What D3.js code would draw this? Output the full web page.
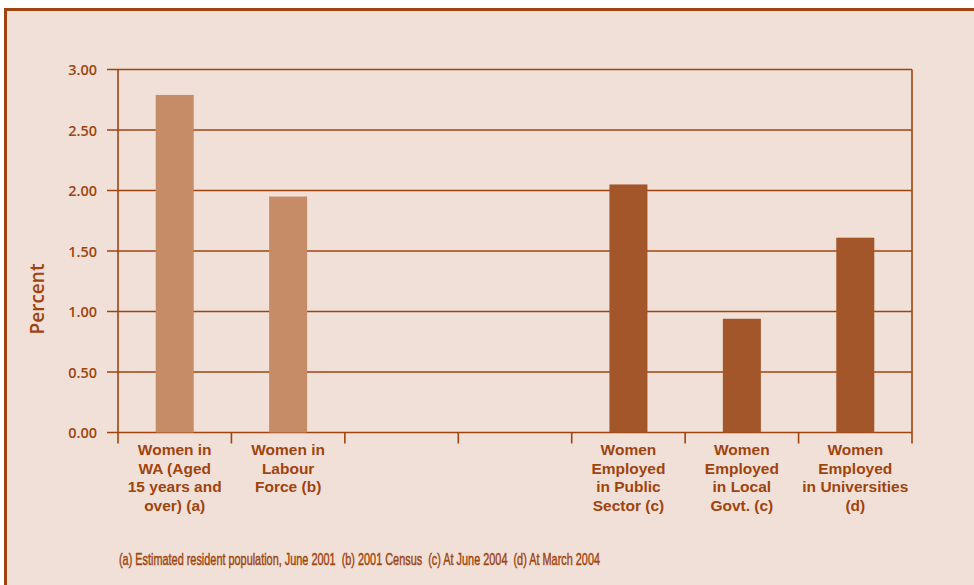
<!DOCTYPE html>
<html><head><meta charset="utf-8">
<script src="https://cdn.jsdelivr.net/npm/d3@7"></script>
<style>
html,body{margin:0;padding:0;background:#fff;}
svg{display:block;}
</style></head>
<body>
<svg id="chart" width="974" height="585"></svg>
<script>
const categories = [
  ["Women in","WA (Aged","15 years and","over) (a)"],
  ["Women in","Labour","Force (b)"],
  [],
  [],
  ["Women","Employed","in Public","Sector (c)"],
  ["Women","Employed","in Local","Govt. (c)"],
  ["Women","Employed","in Universities","(d)"]
];
const values = [2.79, 1.95, null, null, 2.05, 0.94, 1.61];
const barGroup = ["light","light",null,null,"dark","dark","dark"];
const yTicks = [0, 0.5, 1, 1.5, 2, 2.5, 3];
const footnote = "(a) Estimated resident population, June 2001  (b) 2001 Census  (c) At June 2004  (d) At March 2004";
const yTitle = "Percent";

(function(){
const brown = "#a0440f";
const colors = {light:"#c68b67", dark:"#a3562a"};
const svg = d3.select("#chart");

// panel background and border
svg.append("rect").attr("x",5.5).attr("y",9.5).attr("width",980).attr("height",600)
  .attr("fill","#f1e0d7").attr("stroke",brown).attr("stroke-width",3);

const pLeft = 118, pRight = 912, pTop = 69.5, pBottom = 432.5;
const x = d3.scaleBand().domain(d3.range(categories.length)).range([pLeft,pRight]).paddingInner(0).paddingOuter(0);
const y = d3.scaleLinear().domain([0,3]).range([pBottom, pTop]);

// gridlines
svg.append("g").selectAll("line").data(yTicks).join("line")
  .attr("x1",107).attr("x2",pRight).attr("y1",d=>y(d)).attr("y2",d=>y(d))
  .attr("stroke",brown).attr("stroke-width",1.6);

// bars
const bw = 38;
svg.append("g").selectAll("rect").data(values.map((v,i)=>({v,i})).filter(d=>d.v!=null)).join("rect")
  .attr("x",d=>x(d.i)+x.bandwidth()/2-bw/2).attr("width",bw)
  .attr("y",d=>y(d.v)).attr("height",d=>y(0)-y(d.v))
  .attr("fill",d=>colors[barGroup[d.i]]);

// vertical axes
svg.append("line").attr("x1",pLeft).attr("x2",pLeft).attr("y1",pTop).attr("y2",pBottom+11).attr("stroke",brown).attr("stroke-width",1.6);
svg.append("line").attr("x1",pRight).attr("x2",pRight).attr("y1",pTop).attr("y2",pBottom+11).attr("stroke",brown).attr("stroke-width",1.6);

// x category ticks
const bounds = d3.range(categories.length+1).map(i=> i<categories.length ? x(i) : pRight);
svg.append("g").selectAll("line").data(bounds.slice(1,-1)).join("line")
  .attr("x1",d=>d).attr("x2",d=>d).attr("y1",pBottom).attr("y2",pBottom+11)
  .attr("stroke",brown).attr("stroke-width",1.6);

// y tick labels
const yAxis = d3.axisLeft(y).tickValues(yTicks).tickFormat(d3.format(".2f")).tickSize(0).tickPadding(0);
const ya = svg.append("g").attr("transform",`translate(${97},0)`).call(yAxis);
ya.select(".domain").remove();
ya.selectAll("text").attr("fill",brown).attr("font-family","'Open Sans', sans-serif")
  .attr("font-weight",600).attr("font-size",14.5).attr("dy","0.35em");

// y title
svg.append("text").attr("transform","translate(44,299) rotate(-90)").attr("text-anchor","middle")
  .attr("fill",brown).attr("font-family","'Open Sans', sans-serif").attr("font-weight",600).attr("font-size",19).text(yTitle);

// category labels, one text per line
categories.forEach((lines,i)=>{
  const cx = x(i)+x.bandwidth()/2;
  lines.forEach((ln,j)=>{
    svg.append("text").attr("text-anchor","middle").attr("fill",brown)
      .attr("font-family","'Liberation Sans', Arial, sans-serif").attr("font-weight",700).attr("font-size",15.5)
      .attr("x",cx).attr("y",455+j*18.5).text(ln);
  });
});

// footnote
svg.append("text").attr("x",119).attr("y",565).attr("fill",brown)
  .attr("stroke",brown).attr("stroke-width",0.45)
  .style("white-space","pre")
  .attr("font-family","'Liberation Sans Narrow','Liberation Sans',sans-serif").attr("font-size",17)
  .attr("textLength",481).attr("lengthAdjust","spacingAndGlyphs").text(footnote);
})();
</script>
</body></html>
